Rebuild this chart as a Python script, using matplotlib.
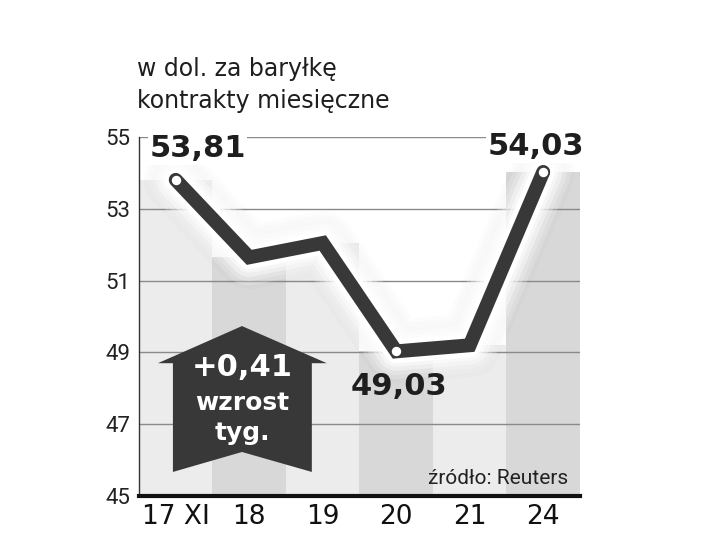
import matplotlib
matplotlib.use("Agg")
from matplotlib import pyplot as plt
from matplotlib.patches import Polygon
import matplotlib.patheffects as pe
import numpy as np

# dane
days = ["17 XI", "18", "19", "20", "21", "24"]
prices = [53.81, 51.65, 52.05, 49.03, 49.2, 54.03]
labels = {0: "53,81", 3: "49,03", 5: "54,03"}
yticks = [45, 47, 49, 51, 53, 55]
change_lines = ["+0,41", "wzrost", "tyg."]

DARK = "#383838"

fig = plt.figure(figsize=(7.2, 5.34), dpi=100)
ax = fig.add_axes([0.193, 0.0712, 0.6125, 0.672])

x = np.arange(len(days))
bar_colors = ["#ececec" if i % 2 == 0 else "#d8d8d8" for i in x]
ax.bar(x, np.array(prices) - 45, bottom=45, width=1.0, color=bar_colors, zorder=1)

for t in yticks[1:]:
    ax.axhline(t, color="#8a8a8a", lw=1, zorder=1.5)

# miekka poswiata + lekki cien pod linia
for w, a in [(46, 0.012), (40, 0.015), (34, 0.02)]:
    ax.plot(x, prices, color="black", lw=w, alpha=a, solid_joinstyle="round",
            solid_capstyle="round", zorder=1.8)
for w, a in [(40, 0.25), (34, 0.3), (28, 0.4), (22, 0.5)]:
    ax.plot(x, prices, color="white", lw=w, alpha=a, solid_joinstyle="round",
            solid_capstyle="round", zorder=2)

ax.plot(x, prices, color=DARK, lw=10, solid_joinstyle="miter", solid_capstyle="round",
        zorder=3, path_effects=[pe.Stroke(linewidth=17, foreground="white",
                                          joinstyle="round", capstyle="round"), pe.Normal()])
idx = list(labels.keys())
ax.plot(x[idx], np.array(prices)[idx], "o", ms=8, mfc="white", mec=DARK, mew=1.2, zorder=4)

offsets = {0: (22, 31), 3: (3, -35), 5: (-7, 25)}
for i, txt in labels.items():
    bbox = dict(facecolor="white", edgecolor="none", pad=1) if i != 3 else None
    ax.annotate(txt, (x[i], prices[i]), xytext=offsets[i], textcoords="offset pixels",
                ha="center", va="center", fontsize=22, fontweight="bold", color="#1e1e1e",
                bbox=bbox, zorder=5)

# strzalka
arrow = [(0.2336, 0.4735), (0.426, 0.370), (0.392, 0.370), (0.392, 0.067),
         (0.2336, 0.1226), (0.077, 0.067), (0.077, 0.370), (0.043, 0.370)]
ax.add_patch(Polygon(arrow, closed=True, transform=ax.transAxes, facecolor=DARK,
                     edgecolor="none", zorder=4))
ax.text(0.2336, 0.357, change_lines[0], transform=ax.transAxes, ha="center", va="center",
        color="white", fontsize=22, fontweight="bold", zorder=5)
ax.text(0.2336, 0.259, change_lines[1], transform=ax.transAxes, ha="center", va="center",
        color="white", fontsize=18, fontweight="bold", zorder=5)
ax.text(0.2336, 0.175, change_lines[2], transform=ax.transAxes, ha="center", va="center",
        color="white", fontsize=18, fontweight="bold", zorder=5)

ax.text(0.973, 0.033, "źródło: Reuters", transform=ax.transAxes, ha="right", va="baseline",
        fontsize=15, family="Roboto", color="#222222", zorder=5)

ax.set_xlim(-0.5, len(days) - 0.5)
ax.set_ylim(45, 55)
ax.set_xticks(x, labels=days)
ax.set_yticks(yticks)
ax.tick_params(axis="x", length=0, pad=6, labelsize=19, labelcolor="#111111")
ax.tick_params(axis="y", length=0, pad=6)
for lab in ax.get_yticklabels():
    lab.set_family("Roboto")
    lab.set_fontsize(16)
    lab.set_color("#222222")

for s in ["top", "right"]:
    ax.spines[s].set_visible(False)
ax.spines["left"].set_color("#333333")
ax.spines["left"].set_linewidth(1)
ax.spines["bottom"].set_color("#111111")
ax.spines["bottom"].set_linewidth(3)
ax.spines["left"].set_zorder(6)
ax.spines["bottom"].set_zorder(6)

fig.text(137 / 720, 1 - 69 / 534, "w dol. za baryłkę", fontsize=17, color="#1e1e1e",
         ha="left", va="center")
fig.text(137 / 720, 1 - 101 / 534, "kontrakty miesięczne", fontsize=17, color="#1e1e1e",
         ha="left", va="center")

fig.savefig("out.png", dpi=100)
